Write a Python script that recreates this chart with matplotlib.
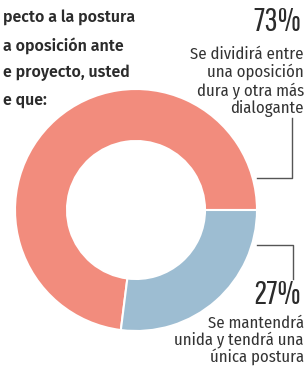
import matplotlib
matplotlib.use("Agg")
import matplotlib.pyplot as plt

# data
labels = ["Se dividirá entre\nuna oposición\ndura y otra más\ndialogante",
          "Se mantendrá\nunida y tendrá una\núnica postura"]
values = [73, 27]
colors = ["#F28C7D", "#9DBDD2"]
title_lines = ["pecto a la postura", "a oposición ante", "e proyecto, usted", "e que:"]

W, H = 306, 367
fig = plt.figure(figsize=(W / 100, H / 100), dpi=100)
ax = fig.add_axes([0, 0, 1, 1])

title_font = ["Fira Sans", "Lato", "DejaVu Sans"]
body_font = ["Fira Sans Condensed", "Roboto Condensed", "Lato", "DejaVu Sans"]
pct_font = ["Pathway Gothic One", "Oswald", "Roboto Condensed", "DejaVu Sans"]


def py(y):
    # pixel row (from top) -> data y
    return H - y


# donut
ax.pie(values, colors=colors, startangle=0, counterclock=True,
       center=(136, py(210)), radius=121, frame=True,
       wedgeprops=dict(width=52, edgecolor="white", linewidth=1.5))
ax.set_xlim(0, W)
ax.set_ylim(0, H)
ax.set_aspect("equal")
ax.axis("off")

# title (cropped on the left in the source)
for i, line in enumerate(title_lines):
    ax.text(3, py(18 + i * 27.5), line, fontsize=11.5, fontweight="semibold",
            color="#2b2b2b", ha="left", va="center", family=title_font)

# percentages
ax.text(301, py(22), f"{values[0]}%", fontsize=24,
        color="#2b2b2b", ha="right", va="center", family=pct_font)
ax.text(301, py(295), f"{values[1]}%", fontsize=24,
        color="#2b2b2b", ha="right", va="center", family=pct_font)

# descriptions
ax.text(304, py(46), labels[0], fontsize=12, color="#333333", ha="right",
        va="top", linespacing=1.12, family=body_font)
ax.text(304, py(315), labels[1], fontsize=12, color="#333333", ha="right",
        va="top", linespacing=1.02, family=body_font)

# leader lines
lc = "#555555"
ax.plot([292, 292, 257], [py(118), py(178), py(178)], color=lc, lw=1)
ax.plot([257, 293, 293], [py(245), py(245), py(279)], color=lc, lw=1)

fig.savefig("out.png", dpi=100)
